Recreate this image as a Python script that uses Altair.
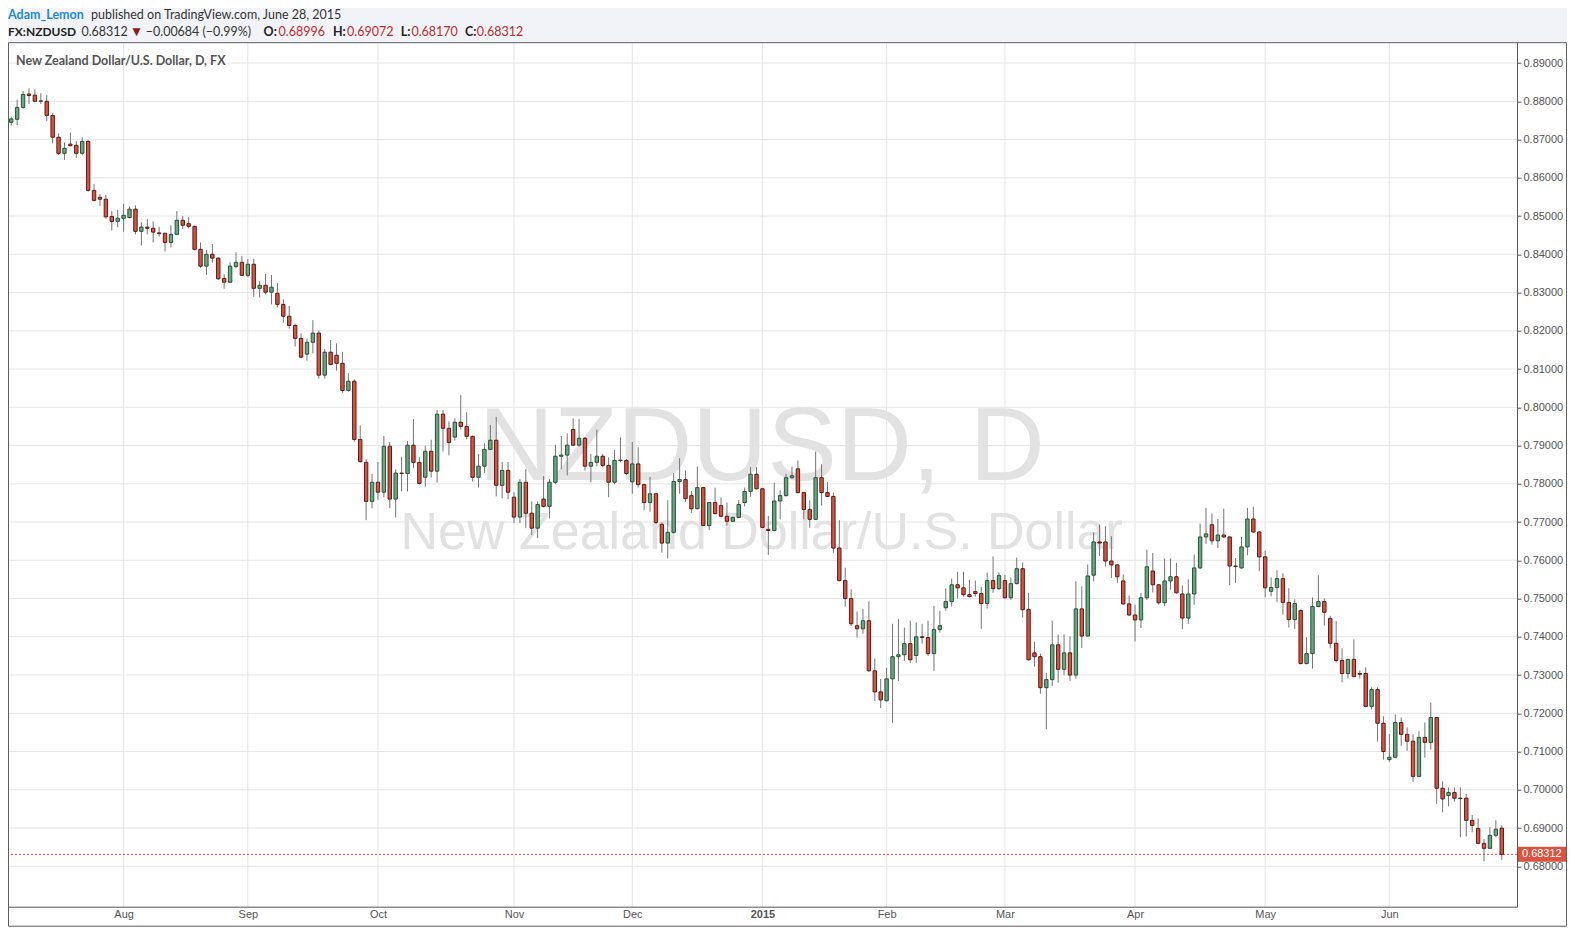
import altair as alt
import pandas as pd

# ---------------- data ----------------
opens = [
0.8745,0.8753,0.8784,0.8819,0.8816,0.8800,0.8800,0.8763,0.8706,0.8664,
0.8688,0.8685,0.8664,0.8695,0.8567,0.8549,0.8544,0.8499,0.8486,0.8494,
0.8496,0.8518,0.8460,0.8471,0.8468,0.8456,0.8455,0.8431,0.8452,0.8489,
0.8480,0.8473,0.8413,0.8369,0.8400,0.8390,0.8337,0.8327,0.8368,0.8379,
0.8345,0.8374,0.8311,0.8319,0.8301,0.8298,0.8269,0.8238,0.8214,0.8180,
0.8139,0.8170,0.8194,0.8084,0.8144,0.8136,0.8115,0.8044,0.8068,0.7916,
0.7856,0.7754,0.7804,0.7778,0.7898,0.7760,0.7828,0.7827,0.7901,0.7856,
0.7817,0.7885,0.7833,0.7982,0.7945,0.7922,0.7961,0.7950,0.7924,0.7817,
0.7846,0.7890,0.7914,0.7796,0.7835,0.7765,0.7713,0.7804,0.7723,0.7684,
0.7760,0.7741,0.7804,0.7872,0.7875,0.7942,0.7901,0.7919,0.7846,0.7856,
0.7872,0.7848,0.7804,0.7861,0.7861,0.7805,0.7852,0.7798,0.7751,0.7774,
0.7694,0.7645,0.7673,0.7806,0.7811,0.7769,0.7735,0.7790,0.7691,0.7751,
0.7743,0.7715,0.7702,0.7712,0.7751,0.7780,0.7825,0.7787,0.7681,0.7678,
0.7755,0.7769,0.7816,0.7839,0.7777,0.7733,0.7707,0.7816,0.7777,0.7767,
0.7632,0.7547,0.7500,0.7429,0.7421,0.7442,0.7311,0.7256,0.7233,0.7290,
0.7348,0.7353,0.7382,0.7351,0.7400,0.7398,0.7356,0.7419,0.7476,0.7492,
0.7536,0.7528,0.7510,0.7518,0.7513,0.7487,0.7547,0.7526,0.7547,0.7502,
0.7539,0.7578,0.7471,0.7358,0.7348,0.7267,0.7288,0.7379,0.7315,0.7358,
0.7300,0.7473,0.7402,0.7561,0.7648,0.7648,0.7598,0.7588,0.7546,0.7486,
0.7457,0.7444,0.7502,0.7572,0.7536,0.7489,0.7546,0.7557,0.7512,0.7449,
0.7512,0.7580,0.7661,0.7693,0.7651,0.7666,0.7661,0.7585,0.7580,0.7635,
0.7708,0.7674,0.7609,0.7519,0.7529,0.7552,0.7490,0.7445,0.7469,0.7330,
0.7356,0.7479,0.7492,0.7448,0.7383,0.7338,0.7304,0.7341,0.7304,0.7304,
0.7218,0.7262,0.7174,0.7079,0.7085,0.7176,0.7145,0.7127,0.7035,0.7137,
0.7124,0.7189,0.7004,0.6985,0.6993,0.6978,0.6978,0.6920,0.6899,0.6860,
0.6847,0.6881,0.68996]

highs = [
0.8760,0.8804,0.8827,0.8834,0.8831,0.8821,0.8816,0.8769,0.8716,0.8692,
0.8718,0.8696,0.8706,0.8699,0.8584,0.8558,0.8555,0.8513,0.8516,0.8532,
0.8525,0.8528,0.8484,0.8492,0.8486,0.8472,0.8456,0.8476,0.8513,0.8500,
0.8497,0.8475,0.8431,0.8411,0.8427,0.8392,0.8348,0.8379,0.8405,0.8396,
0.8388,0.8388,0.8330,0.8349,0.8346,0.8325,0.8282,0.8265,0.8219,0.8193,
0.8180,0.8228,0.8201,0.8152,0.8176,0.8167,0.8145,0.8089,0.8073,0.7953,
0.7864,0.7826,0.7857,0.7925,0.7909,0.7838,0.7871,0.7912,0.7969,0.7869,
0.7899,0.7915,0.7993,0.7993,0.7963,0.7971,0.8032,0.7987,0.7926,0.7878,
0.7906,0.7954,0.7975,0.7857,0.7857,0.7778,0.7812,0.7838,0.7754,0.7754,
0.7820,0.7812,0.7902,0.7925,0.7932,0.7971,0.7969,0.7922,0.7878,0.7942,
0.7878,0.7869,0.7888,0.7921,0.7865,0.7909,0.7895,0.7800,0.7818,0.7776,
0.7699,0.7757,0.7828,0.7867,0.7835,0.7781,0.7845,0.7792,0.7753,0.7790,
0.7764,0.7751,0.7714,0.7757,0.7790,0.7844,0.7844,0.7789,0.7716,0.7803,
0.7783,0.7826,0.7845,0.7861,0.7779,0.7757,0.7884,0.7851,0.7805,0.7777,
0.7705,0.7581,0.7524,0.7466,0.7473,0.7492,0.7343,0.7290,0.7319,0.7434,
0.7447,0.7424,0.7442,0.7437,0.7434,0.7442,0.7481,0.7468,0.7526,0.7552,
0.7570,0.7570,0.7549,0.7547,0.7531,0.7568,0.7610,0.7568,0.7562,0.7555,
0.7607,0.7594,0.7515,0.7387,0.7356,0.7306,0.7442,0.7406,0.7406,0.7401,
0.7545,0.7532,0.7589,0.7673,0.7693,0.7689,0.7663,0.7590,0.7563,0.7508,
0.7484,0.7515,0.7628,0.7619,0.7538,0.7605,0.7605,0.7593,0.7534,0.7550,
0.7615,0.7696,0.7737,0.7722,0.7708,0.7735,0.7663,0.7606,0.7661,0.7737,
0.7740,0.7676,0.7625,0.7555,0.7574,0.7566,0.7527,0.7498,0.7471,0.7399,
0.7503,0.7561,0.7500,0.7455,0.7441,0.7370,0.7343,0.7393,0.7312,0.7320,
0.7268,0.7268,0.7192,0.7146,0.7197,0.7189,0.7163,0.7145,0.7153,0.7176,
0.7228,0.7190,0.7022,0.7006,0.7006,0.7006,0.6989,0.6934,0.6925,0.6871,
0.6902,0.6920,0.69072]

lows = [
0.8737,0.8738,0.8781,0.8793,0.8798,0.8793,0.8749,0.8690,0.8660,0.8647,
0.8682,0.8652,0.8659,0.8564,0.8538,0.8527,0.8493,0.8462,0.8471,0.8459,
0.8494,0.8452,0.8423,0.8452,0.8431,0.8446,0.8407,0.8418,0.8450,0.8466,
0.8468,0.8410,0.8365,0.8346,0.8378,0.8333,0.8310,0.8325,0.8363,0.8343,
0.8340,0.8289,0.8287,0.8295,0.8269,0.8261,0.8221,0.8206,0.8159,0.8128,
0.8122,0.8141,0.8075,0.8075,0.8110,0.8096,0.8038,0.8041,0.7910,0.7855,
0.7705,0.7736,0.7758,0.7765,0.7736,0.7712,0.7780,0.7780,0.7841,0.7798,
0.7793,0.7817,0.7803,0.7884,0.7874,0.7913,0.7942,0.7916,0.7806,0.7790,
0.7828,0.7888,0.7767,0.7762,0.7760,0.7697,0.7697,0.7684,0.7666,0.7658,
0.7738,0.7710,0.7799,0.7838,0.7822,0.7899,0.7897,0.7835,0.7804,0.7846,
0.7843,0.7765,0.7799,0.7856,0.7823,0.7774,0.7790,0.7731,0.7727,0.7695,
0.7620,0.7605,0.7670,0.7774,0.7753,0.7724,0.7733,0.7689,0.7679,0.7720,
0.7712,0.7691,0.7700,0.7710,0.7741,0.7766,0.7785,0.7684,0.7614,0.7676,
0.7707,0.7767,0.7813,0.7775,0.7707,0.7685,0.7705,0.7743,0.7765,0.7620,
0.7545,0.7479,0.7428,0.7398,0.7408,0.7309,0.7233,0.7214,0.7231,0.7175,
0.7285,0.7337,0.7332,0.7332,0.7382,0.7350,0.7311,0.7411,0.7468,0.7479,
0.7500,0.7505,0.7503,0.7505,0.7421,0.7474,0.7515,0.7522,0.7500,0.7497,
0.7537,0.7450,0.7338,0.7322,0.7251,0.7158,0.7271,0.7280,0.7300,0.7285,
0.7290,0.7371,0.7401,0.7545,0.7611,0.7584,0.7554,0.7541,0.7484,0.7454,
0.7388,0.7423,0.7497,0.7516,0.7484,0.7480,0.7523,0.7513,0.7420,0.7434,
0.7484,0.7578,0.7643,0.7641,0.7632,0.7658,0.7535,0.7541,0.7578,0.7613,
0.7672,0.7571,0.7503,0.7506,0.7490,0.7458,0.7424,0.7421,0.7328,0.7328,
0.7317,0.7477,0.7429,0.7370,0.7333,0.7281,0.7291,0.7294,0.7291,0.7216,
0.7210,0.7126,0.7079,0.7073,0.7083,0.7115,0.7102,0.7021,0.7033,0.7084,
0.7105,0.6963,0.6941,0.6957,0.6969,0.6876,0.6878,0.6889,0.6858,0.6813,
0.6845,0.6876,0.68170]

closes = [
0.8754,0.8784,0.8818,0.8815,0.8800,0.8801,0.8763,0.8706,0.8664,0.8677,
0.8684,0.8664,0.8695,0.8567,0.8541,0.8544,0.8498,0.8486,0.8494,0.8502,
0.8518,0.8460,0.8471,0.8468,0.8458,0.8454,0.8431,0.8452,0.8489,0.8476,
0.8473,0.8413,0.8369,0.8400,0.8390,0.8336,0.8327,0.8369,0.8379,0.8345,
0.8374,0.8311,0.8319,0.8301,0.8314,0.8269,0.8238,0.8214,0.8180,0.8131,
0.8170,0.8194,0.8084,0.8144,0.8112,0.8115,0.8044,0.8068,0.7916,0.7858,
0.7754,0.7804,0.7778,0.7898,0.7760,0.7828,0.7827,0.7901,0.7856,0.7801,
0.7885,0.7833,0.7982,0.7945,0.7908,0.7961,0.7950,0.7924,0.7817,0.7846,
0.7890,0.7914,0.7796,0.7835,0.7778,0.7713,0.7804,0.7723,0.7684,0.7746,
0.7741,0.7804,0.7872,0.7875,0.7901,0.7901,0.7919,0.7846,0.7856,0.7872,
0.7848,0.7804,0.7861,0.7862,0.7827,0.7852,0.7798,0.7751,0.7774,0.7699,
0.7645,0.7673,0.7806,0.7811,0.7761,0.7735,0.7790,0.7691,0.7751,0.7722,
0.7715,0.7702,0.7712,0.7746,0.7780,0.7825,0.7787,0.7686,0.7678,0.7755,
0.7769,0.7816,0.7821,0.7777,0.7733,0.7707,0.7816,0.7777,0.7767,0.7632,
0.7547,0.7500,0.7434,0.7421,0.7442,0.7311,0.7256,0.7235,0.7290,0.7348,
0.7353,0.7382,0.7340,0.7400,0.7398,0.7356,0.7419,0.7429,0.7492,0.7536,
0.7528,0.7510,0.7505,0.7513,0.7487,0.7547,0.7526,0.7560,0.7502,0.7539,
0.7578,0.7471,0.7340,0.7348,0.7267,0.7288,0.7379,0.7315,0.7358,0.7300,
0.7473,0.7402,0.7559,0.7648,0.7645,0.7598,0.7588,0.7557,0.7486,0.7457,
0.7444,0.7502,0.7583,0.7536,0.7489,0.7546,0.7557,0.7515,0.7449,0.7512,
0.7580,0.7661,0.7669,0.7651,0.7666,0.7661,0.7585,0.7584,0.7635,0.7708,
0.7674,0.7609,0.7528,0.7529,0.7552,0.7490,0.7445,0.7487,0.7330,0.7356,
0.7479,0.7492,0.7464,0.7383,0.7338,0.7304,0.7341,0.7296,0.7302,0.7218,
0.7262,0.7174,0.7100,0.7085,0.7176,0.7145,0.7127,0.7035,0.7137,0.7124,
0.7189,0.7004,0.6976,0.6993,0.6978,0.6977,0.6920,0.6907,0.6860,0.6847,
0.6881,0.6897,0.68312]

# trading days (weekends and Dec 25 / Jan 1 are not bars)
holidays = ["2014-12-25", "2015-01-01"]
first_day, last_day = "2014-07-07", "2015-06-26"

y_ticks = [0.68, 0.69, 0.70, 0.71, 0.72, 0.73, 0.74, 0.75, 0.76, 0.77, 0.78,
           0.79, 0.80, 0.81, 0.82, 0.83, 0.84, 0.85, 0.86, 0.87, 0.88, 0.89]

# texts
author = "Adam_Lemon"
published = "published on TradingView.com, June 28, 2015"
symbol = "FX:NZDUSD"
last_txt = "0.68312"
change_txt = "\u22120.00684 (\u22120.99%)"
ohlc_keys = ["O:", "H:", "L:", "C:"]
ohlc_vals = ["0.68996", "0.69072", "0.68170", "0.68312"]
pane_title = "New Zealand Dollar/U.S. Dollar, D, FX"
wm_big = "NZDUSD, D"
wm_small = "New Zealand Dollar/U.S. Dollar"

# ---------------- table ----------------
days = [d for d in pd.bdate_range(first_day, last_day) if d not in pd.to_datetime(holidays)]
n = min(len(days), len(opens))
days = days[:n]
df = pd.DataFrame({
    "i": list(range(n)),
    "open": opens[:n], "close": closes[:n],
    "high": [max(h, o, c) for h, o, c in zip(highs, opens, closes)][:n],
    "low": [min(l, o, c) for l, o, c in zip(lows, opens, closes)][:n],
})
df["dir"] = ["up" if c >= o else "down" for o, c in zip(df["open"], df["close"])]

month_idx = [i for i in range(1, n) if days[i].month != days[i - 1].month]
month_lab = ["2015" if days[i].month == 1 else days[i].strftime("%b") for i in month_idx]
jan_idx = [i for i in month_idx if days[i].month == 1]
label_expr = "''"
for i, lab in reversed(list(zip(month_idx, month_lab))):
    label_expr = f"datum.value == {i} ? '{lab}' : ({label_expr})"

# ---------------- geometry / style ----------------
W, H = 1509, 864
FR = 1558.5   # right edge of outer frame
FB = 883.5    # bottom edge of outer frame
GRID = "#e6e6e6"
AX = "#555555"
xscale = alt.Scale(domain=[0.30, 253.73], nice=False, zero=False)
yscale = alt.Scale(domain=[0.66944, 0.89532], nice=False, zero=False)

xaxis = alt.Axis(values=month_idx, labelExpr=label_expr, grid=False, ticks=False,
                 domainColor=AX, labelColor=AX, labelFont="Liberation Sans",
                 labelFontSize=11, labelPadding=2, labelFlush=False, labelOverlap=False,
                 labelFontWeight={"condition": {"test": f"datum.value == {jan_idx[0] if jan_idx else -1}",
                                                "value": "bold"}, "value": "normal"},
                 zindex=1, title=None)
yaxis = alt.Axis(orient="right", values=y_ticks, format=".5f", grid=False,
                 tickSize=4, tickColor=AX, domainColor=AX, labelColor=AX,
                 labelFont="Liberation Sans", labelFontSize=11, labelPadding=2,
                 labelOverlap=False, zindex=1, title=None)

one = pd.DataFrame({"k": [0]})


def txt(text, x, y, size, color, weight="normal", font="Lato", align="left"):
    return alt.Chart(pd.DataFrame({"t": [text]})).mark_text(
        align=align, baseline="alphabetic", font=font, fontSize=size,
        fontWeight=weight, color=color
    ).encode(x=alt.value(x), y=alt.value(y), text="t:N")


strip_r = alt.Chart(one).mark_rect(color="white").encode(
    x=alt.value(W), x2=alt.value(FR), y=alt.value(0), y2=alt.value(FB))
strip_b = alt.Chart(one).mark_rect(color="white").encode(
    x=alt.value(0), x2=alt.value(W), y=alt.value(H), y2=alt.value(FB))

hgrid = alt.Chart(pd.DataFrame({"v": y_ticks})).mark_rule(color=GRID, strokeWidth=1).encode(
    y=alt.Y("v:Q", scale=yscale, axis=yaxis))
vgrid = alt.Chart(pd.DataFrame({"m": month_idx})).mark_rule(color=GRID, strokeWidth=1).encode(
    x=alt.X("m:Q", scale=xscale, axis=xaxis))

wm1 = txt(wm_big, 753.7, 437.5, 104, "#e2e2e2", font="Liberation Sans", align="center")
wm2 = txt(wm_small, 753.7, 506, 52, "#e2e2e2", font="Liberation Sans", align="center")
ptitle = txt(pane_title, 8, 22.3, 12.5, "#555555", weight="bold")

last = df.tail(1)
pline = alt.Chart(last).mark_rule(color="#d0432f", strokeDash=[2, 2], strokeWidth=1).encode(
    y=alt.Y("close:Q", scale=yscale, axis=yaxis))

wicks = alt.Chart(df).mark_rule(color="#737375", strokeWidth=1).encode(
    x=alt.X("i:Q", scale=xscale, axis=xaxis),
    y=alt.Y("low:Q", scale=yscale, axis=yaxis),
    y2="high:Q")

bodies = alt.Chart(df).mark_bar(width=3.4, strokeWidth=1).encode(
    x=alt.X("i:Q", scale=xscale, axis=xaxis),
    y=alt.Y("open:Q", scale=yscale, axis=yaxis),
    y2="close:Q",
    fill=alt.Fill("dir:N", scale=alt.Scale(domain=["up", "down"], range=["#6ba583", "#d75442"]), legend=None),
    stroke=alt.Stroke("dir:N", scale=alt.Scale(domain=["up", "down"], range=["#225437", "#5b1a13"]), legend=None),
)

pbox = alt.Chart(last).mark_rect(color="#d9533f", yOffset=-7.5, y2Offset=7.5).encode(
    x=alt.value(W), x2=alt.value(W + 49),
    y=alt.Y("close:Q", scale=yscale, axis=yaxis), y2="close:Q")
ptext = alt.Chart(last).mark_text(align="left", baseline="middle", color="white",
                                  font="Liberation Sans", fontSize=11).encode(
    x=alt.value(W + 5), y=alt.Y("close:Q", scale=yscale, axis=yaxis),
    text=alt.Text("close:Q", format=".5f"))

frame = alt.Chart(one).mark_rect(fillOpacity=0, stroke="#5d5d5d", strokeWidth=1).encode(
    x=alt.value(0.5), x2=alt.value(FR), y=alt.value(0), y2=alt.value(FB))

# header
y1, y2 = -23.8, -6.8
hdr = [
    txt(author, 0, y1, 12.5, "#1f8ad0", weight="bold"),
    txt(published, 83, y1, 12.5, "#333333"),
    txt(symbol, 0, y2, 12, "#222222", weight="bold"),
    txt(last_txt, 73.4, y2, 12.5, "#333333"),
    txt("\u25bc", 124.5, y2 - 0.5, 10.5, "#8e1b1b", font="DejaVu Sans"),
    txt(change_txt, 137.7, y2, 12.5, "#333333"),
]
key_x = [255.6, 324.9, 392.7, 457.0]
val_x = [270.6, 339.0, 403.4, 468.8]
for k, v, kx, vx in zip(ohlc_keys, ohlc_vals, key_x, val_x):
    hdr.append(txt(k, kx, y2, 12.5, "#222222", weight="bold"))
    hdr.append(txt(v, vx, y2, 12.5, "#c0282d"))

chart = alt.layer(
    strip_r, strip_b, hgrid, vgrid, wm1, wm2, ptitle, pline, wicks, bodies,
    pbox, ptext, frame, *hdr
).properties(
    width=W, height=H,
    autosize=alt.AutoSizeParams(type="none"),
    padding={"left": 0, "top": 34.7, "right": 50, "bottom": 20},
).configure(background="#f1f3f6").configure_view(fill="white", stroke=None)

chart.save("out.html", embed_options={"renderer": "svg", "actions": False})
